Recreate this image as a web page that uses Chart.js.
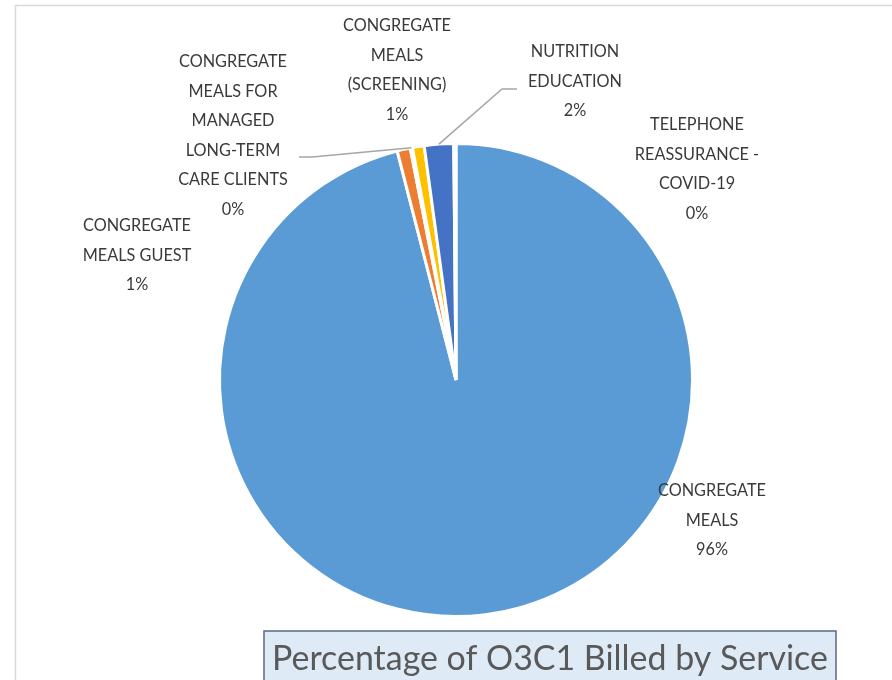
<!DOCTYPE html>
<html>
<head>
<meta charset="utf-8">
<script src="https://cdn.jsdelivr.net/npm/chart.js@4.4.0/dist/chart.umd.min.js"></script>
<style>
  html, body { margin: 0; padding: 0; background: #ffffff; }
  #pie-canvas { display: block; }
</style>
</head>
<body>
<canvas id="pie-canvas" width="892" height="680"></canvas>
<script>
// Slices, clockwise from 12 o'clock
var categories = [
  'CONGREGATE\nMEALS',
  'CONGREGATE\nMEALS GUEST',
  'CONGREGATE\nMEALS FOR\nMANAGED\nLONG-TERM\nCARE CLIENTS',
  'CONGREGATE\nMEALS\n(SCREENING)',
  'NUTRITION\nEDUCATION',
  'TELEPHONE\nREASSURANCE -\nCOVID-19'
];
var shares = [96.0, 0.9, 0.15, 0.8, 2.0, 0.15];
var sliceColors = ['#5B9BD5', '#ED7D31', '#A5A5A5', '#FFC000', '#4472C4', '#70AD47'];
var chartTitle = 'Percentage of O3C1 Billed by Service';

// where each data label sits (centre x, first line y) and whether it gets a leader line
var labelSpots = [
  { x: 712, y: 491 },
  { x: 137, y: 226 },
  { x: 233, y: 62, leader: [[299, 157], [312, 157]] },
  { x: 397, y: 26 },
  { x: 575, y: 52, leader: [[517, 89], [502, 89]] },
  { x: 697, y: 125 }
];

function fitFont(ctx, family, text, targetWidth) {
  ctx.font = '20px ' + family;
  return 20 * targetWidth / ctx.measureText(text).width;
}

// background frame + title box
var framePlugin = {
  id: 'frame',
  beforeDraw: function (chart) {
    var ctx = chart.ctx;
    ctx.save();
    ctx.fillStyle = '#ffffff';
    ctx.fillRect(0, 0, chart.width, chart.height);
    ctx.strokeStyle = '#D9D9D9';
    ctx.lineWidth = 1.5;
    ctx.beginPath();
    ctx.moveTo(15.5, chart.height);
    ctx.lineTo(15.5, 5.5);
    ctx.lineTo(chart.width, 5.5);
    ctx.stroke();
    ctx.restore();
  },
  afterDraw: function (chart) {
    var ctx = chart.ctx;
    ctx.save();
    ctx.fillStyle = '#DEEBF7';
    ctx.fillRect(264, 631, 572, 60);
    ctx.strokeStyle = '#5A6A80';
    ctx.lineWidth = 1.5;
    ctx.strokeRect(264, 631, 572, 60);
    var size = fitFont(ctx, 'Lato', chartTitle, 556);
    ctx.font = size + 'px Lato';
    ctx.fillStyle = '#595959';
    ctx.textAlign = 'center';
    ctx.textBaseline = 'alphabetic';
    ctx.fillText(chartTitle, 550, 670);
    ctx.restore();
  }
};

// data labels with percentages and leader lines
var labelPlugin = {
  id: 'pieLabels',
  afterDatasetsDraw: function (chart) {
    var ctx = chart.ctx;
    var arcs = chart.getDatasetMeta(0).data;
    var total = shares.reduce(function (a, b) { return a + b; }, 0);
    ctx.save();
    var size = fitFont(ctx, 'Lato', 'CONGREGATE', 108);
    ctx.font = size + 'px Lato';
    ctx.fillStyle = '#3A3A3A';
    ctx.textAlign = 'center';
    ctx.textBaseline = 'middle';

    arcs.forEach(function (arc, i) {
      var spot = labelSpots[i];
      var lines = categories[i].split('\n');
      lines.push(Math.round(shares[i] / total * 100) + '%');
      lines.forEach(function (line, k) {
        ctx.fillText(line, spot.x, spot.y + k * 29.5);
      });

      if (spot.leader) {
        var p = arc.getProps(['x', 'y', 'startAngle', 'endAngle', 'outerRadius'], true);
        var mid = (p.startAngle + p.endAngle) / 2;
        var ex = p.x + Math.cos(mid) * p.outerRadius;
        var ey = p.y + Math.sin(mid) * p.outerRadius;
        ctx.strokeStyle = '#A6A6A6';
        ctx.lineWidth = 1.5;
        ctx.beginPath();
        ctx.moveTo(spot.leader[0][0], spot.leader[0][1]);
        ctx.lineTo(spot.leader[1][0], spot.leader[1][1]);
        ctx.lineTo(ex, ey);
        ctx.stroke();
      }
    });
    ctx.restore();
  }
};

new Chart(document.querySelector('#pie-canvas'), {
  type: 'pie',
  data: {
    labels: categories,
    datasets: [{
      data: shares,
      backgroundColor: sliceColors,
      borderColor: '#ffffff',
      borderWidth: 3
    }]
  },
  options: {
    responsive: false,
    animation: false,
    layout: { padding: { left: 218, right: 198, top: 142, bottom: 62 } },
    plugins: {
      legend: { display: false },
      tooltip: { enabled: false },
      title: { display: false }
    }
  },
  plugins: [framePlugin, labelPlugin]
});
</script>
</body>
</html>
